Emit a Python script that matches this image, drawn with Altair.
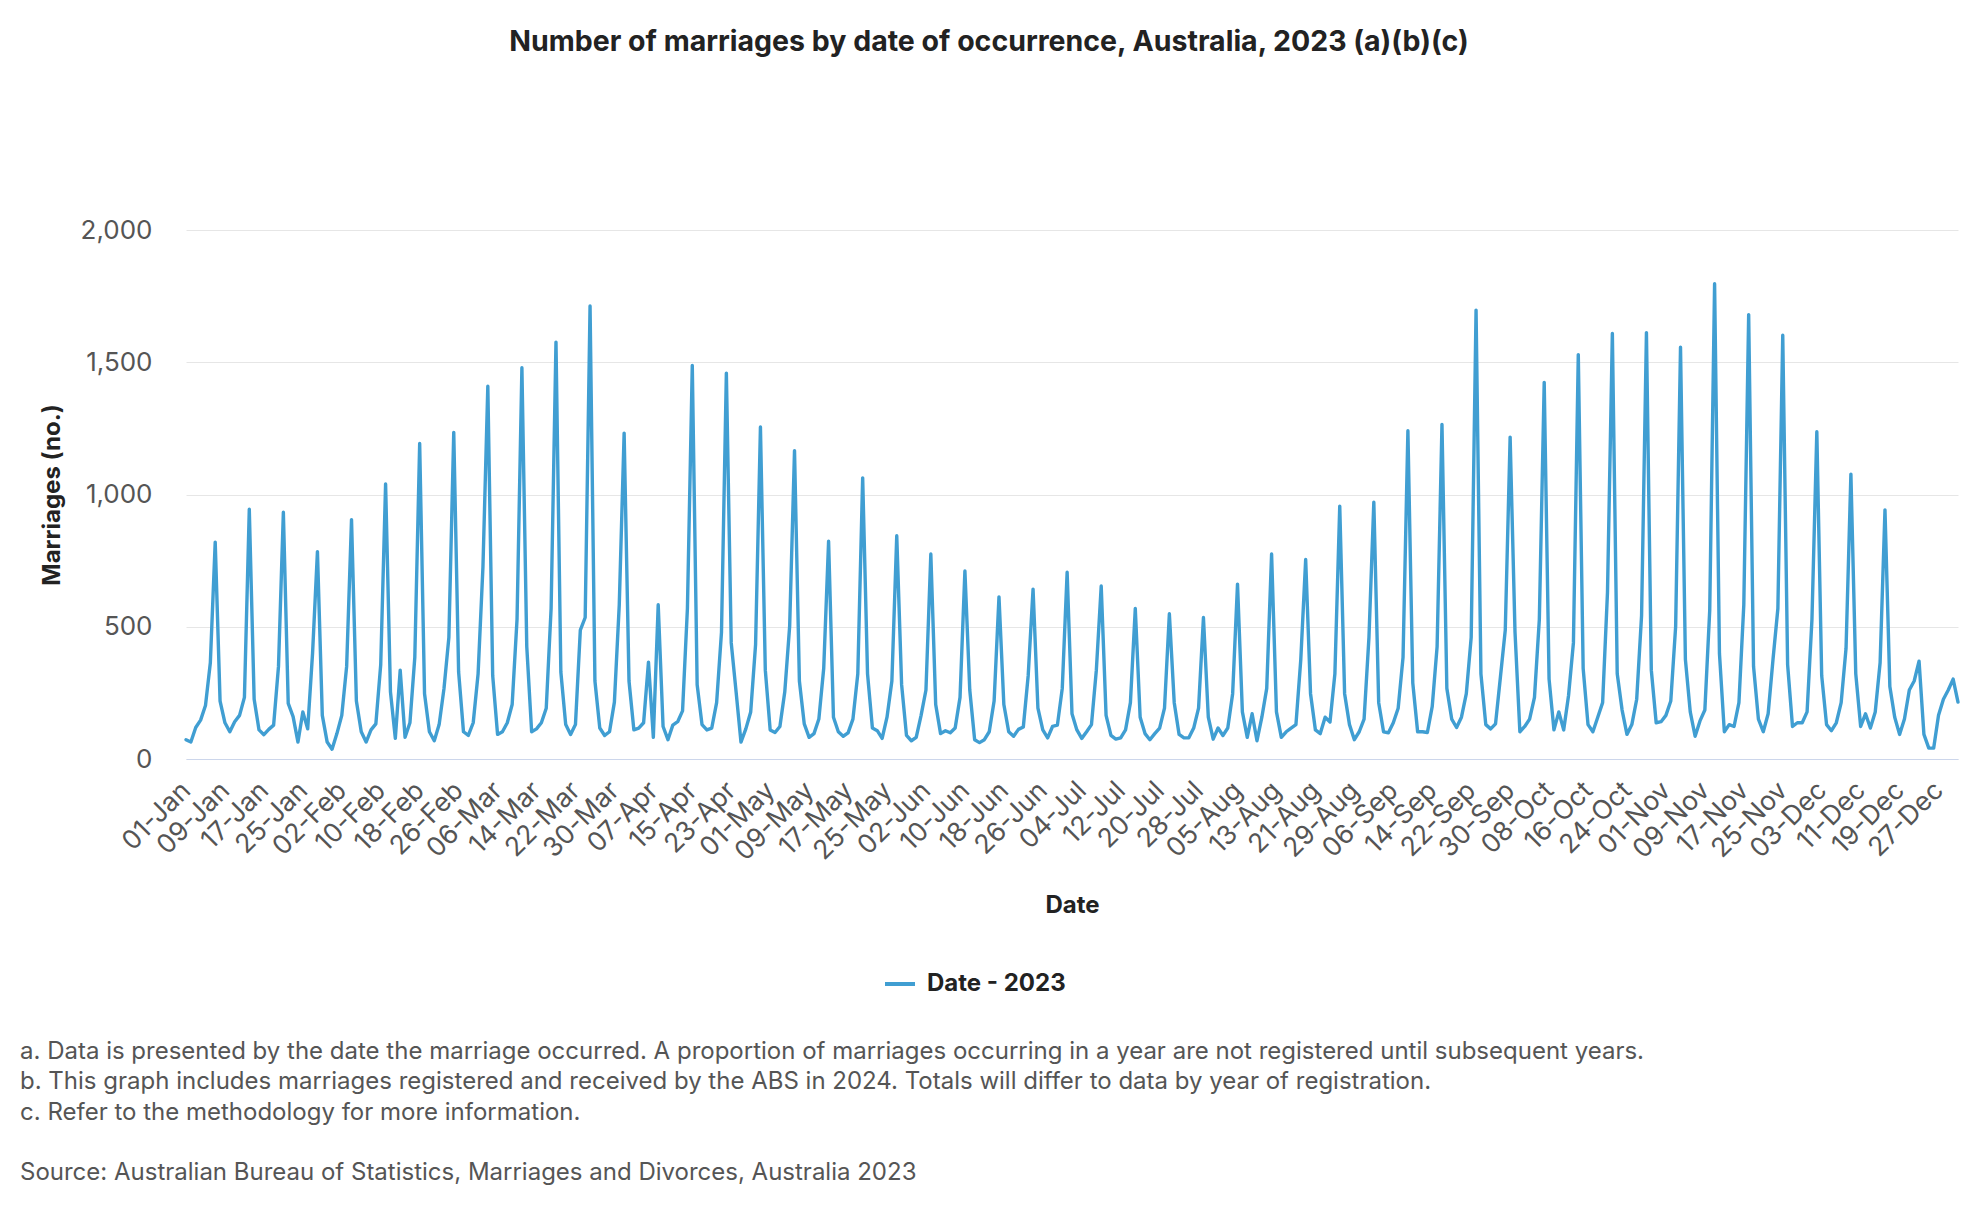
import altair as alt
import pandas as pd

# Daily number of marriages, 2023
jan = [73, 64, 119, 147, 202, 364, 820, 219, 137, 103, 141, 165, 233, 944, 226, 110, 92, 112, 128, 350, 933,
       210, 160, 64, 178, 114, 400, 784, 165, 64, 37]
feb = [96, 165, 350, 905, 219, 103, 64, 110, 133, 357, 1040, 254, 78, 336, 82, 137, 384, 1193, 247, 103, 69,
       130, 267, 460, 1235, 329, 103, 89]
mar = [137, 322, 727, 1409, 315, 93, 103, 137, 206, 528, 1479, 425, 103, 114, 137, 192, 569, 1576, 329, 130,
       93, 130, 487, 535, 1713, 295, 117, 89, 103, 215, 583]
apr = [1232, 295, 110, 117, 137, 366, 82, 583, 123, 73, 128, 141, 182, 569, 1488, 281, 130, 110, 117, 213, 480,
       1459, 439, 254, 64, 114, 178, 432, 1255, 336]
may = [110, 100, 123, 254, 501, 1166, 295, 133, 82, 96, 151, 343, 823, 158, 103, 86, 99, 151, 322, 1063, 322,
       117, 107, 78, 158, 295, 844, 281, 89, 69, 82]
jun = [165, 261, 775, 206, 96, 107, 99, 117, 233, 711, 261, 73, 62, 73, 103, 219, 613, 206, 103, 86, 112, 121,
       315, 642, 192, 110, 80, 123, 128, 267]
jul = [706, 171, 110, 78, 103, 130, 336, 654, 165, 89, 75, 80, 110, 213, 569, 158, 96, 73, 96, 117, 192, 549,
       213, 93, 80, 80, 117, 192, 535, 158, 75]
aug = [117, 89, 117, 247, 661, 178, 82, 171, 69, 158, 267, 775, 178, 82, 103, 117, 130, 377, 754, 247, 110, 96,
       158, 140, 322, 956, 247, 130, 73, 103, 151]
sep = [460, 971, 213, 103, 99, 137, 192, 384, 1241, 288, 103, 103, 100, 199, 425, 1265, 267, 151, 119, 158, 247,
       460, 1697, 322, 130, 114, 133, 309, 487, 1217]
oct_ = [480, 103, 123, 151, 233, 528, 1424, 302, 110, 178, 110, 240, 439, 1529, 343, 130, 103, 158, 213, 631,
        1609, 322, 185, 93, 130, 226, 542, 1612, 336, 137, 141]
nov = [165, 219, 501, 1557, 377, 178, 86, 144, 185, 562, 1797, 398, 103, 130, 123, 213, 583, 1680, 350, 151,
       103, 171, 377, 569, 1602, 357, 123, 137, 137, 178]
dec = [528, 1237, 315, 130, 107, 137, 213, 418, 1077, 322, 123, 171, 117, 178, 364, 942, 274, 158, 93, 151, 261,
       295, 370, 93, 41, 41, 165, 226, 261, 302, 215]

series_name = "Date - 2023"
title_text = "Number of marriages by date of occurrence, Australia, 2023 (a)(b)(c)"
footnotes = [
    "a. Data is presented by the date the marriage occurred. A proportion of marriages occurring in a year are not registered until subsequent years.",
    "b. This graph includes marriages registered and received by the ABS in 2024. Totals will differ to data by year of registration.",
    "c. Refer to the methodology for more information.",
]
source_text = "Source: Australian Bureau of Statistics, Marriages and Divorces, Australia 2023"
y_ticks = [0, 500, 1000, 1500, 2000]

values = jan + feb + mar + apr + may + jun + jul + aug + sep + oct_ + nov + dec
dates = pd.date_range("2023-01-01", "2023-12-31", freq="D")
df = pd.DataFrame({
    "date": dates.strftime("%Y-%m-%dT00:00:00"),
    "marriages": values,
    "series": series_name,
})

tick_values = [alt.DateTime(year=2023, month=int(d.month), date=int(d.day)) for d in dates[::8]]

FONT = "Inter"
W, H = 1772, 529

line = alt.Chart(df).mark_line(strokeWidth=3.4, strokeJoin="round", strokeCap="round").encode(
    x=alt.X(
        "date:T",
        scale=alt.Scale(domain=[alt.DateTime(year=2023, month=1, date=1), alt.DateTime(year=2023, month=12, date=31)], nice=False),
        axis=alt.Axis(
            values=tick_values, format="%d-%b", labelAngle=-45, labelAlign="right", labelBaseline="middle",
            labelFont=FONT, labelFontSize=26.5, labelColor="#555555", labelPadding=27, labelOverlap=False,
            labelFlush=False, ticks=False, grid=False, domainColor="#ccd6eb", domainWidth=1,
            title="Date", titleFont=FONT, titleFontSize=24, titleFontWeight="bold", titleColor="#222222",
            titleX=W / 2, titleY=134, titleBaseline="top", titleAlign="center",
        ),
    ),
    y=alt.Y(
        "marriages:Q",
        scale=alt.Scale(domain=[0, 2000], nice=False),
        axis=alt.Axis(
            values=y_ticks, format=",d", labelFont=FONT, labelFontSize=26, labelColor="#555555",
            labelPadding=34, ticks=False, domain=False, gridColor="#e6e6e6", gridWidth=1,
            title="Marriages (no.)", titleFont=FONT, titleFontSize=24, titleFontWeight="bold",
            titleColor="#222222", titleX=-134, titleY=H / 2, titleAngle=-90, titleBaseline="middle",
            titleAlign="center",
        ),
    ),
    color=alt.Color(
        "series:N",
        scale=alt.Scale(domain=[series_name], range=["#409ed2"]),
        legend=alt.Legend(
            title=None, orient="none", legendX=697, legendY=737, symbolType="stroke", symbolStrokeWidth=4,
            symbolSize=900, labelFont=FONT, labelFontSize=24, labelFontWeight="bold", labelColor="#222222",
            labelOffset=10,
        ),
    ),
)

notes_df = pd.DataFrame({"text": ["\n".join(footnotes)]})
notes = alt.Chart(notes_df).mark_text(
    align="left", baseline="top", lineBreak="\n", lineHeight=30.3, font=FONT, fontSize=24, color="#555555"
).encode(text="text:N", x=alt.value(-166), y=alt.value(810))

source_df = pd.DataFrame({"text": [source_text]})
source = alt.Chart(source_df).mark_text(
    align="left", baseline="top", font=FONT, fontSize=24, color="#555555"
).encode(text="text:N", x=alt.value(-166), y=alt.value(931))

chart = alt.layer(line, notes, source).properties(
    width=W,
    height=H,
    padding={"left": 178, "top": 222, "right": 14, "bottom": 439},
    autosize=alt.AutoSizeParams(type="none"),
    title=alt.TitleParams(
        text=title_text, font=FONT, fontSize=28.5, fontWeight="bold", color="#222222",
        anchor="middle", frame="group", dx=-83, offset=161,
    ),
).configure(background="white").configure_view(stroke=None)

chart.save("out.html", embed_options={"renderer": "svg", "actions": False})
